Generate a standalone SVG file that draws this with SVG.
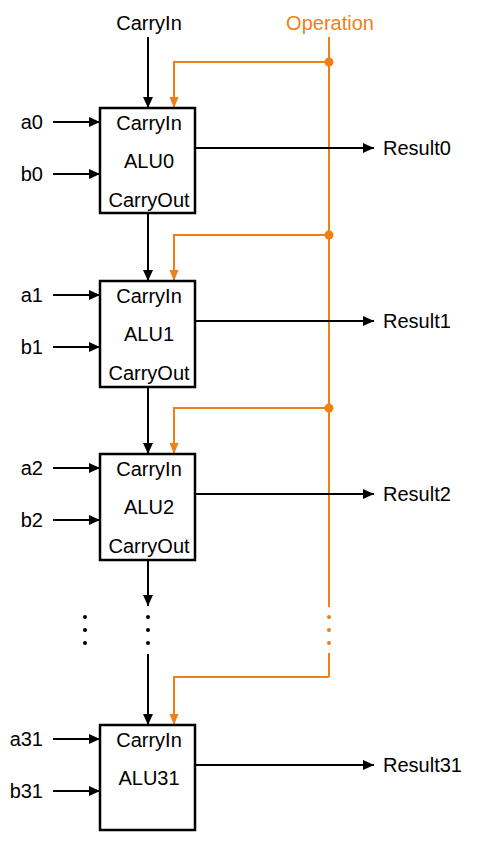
<svg xmlns="http://www.w3.org/2000/svg" width="481" height="862" viewBox="0 0 481 862">
<defs>
<style>
text{font-family:"Liberation Sans",Arial,sans-serif;font-size:20px;fill:#000}
.c{text-anchor:middle}
.e{text-anchor:end}
.box{fill:#fff;stroke:#000;stroke-width:2.5}
.w{stroke:#000;stroke-width:2;fill:none}
.o{stroke:#EF8017;stroke-width:2;fill:none}
.ot{fill:#EF8017}
</style>
<marker id="ab" markerUnits="userSpaceOnUse" markerWidth="12" markerHeight="12" refX="11" refY="5" orient="auto" viewBox="0 0 12 10">
<path d="M0,0 L11,5 L0,10 Z" fill="#000"/>
</marker>
<marker id="ao" markerUnits="userSpaceOnUse" markerWidth="12" markerHeight="12" refX="11" refY="4.5" orient="auto" viewBox="0 0 12 9">
<path d="M0,0 L11,4.5 L0,9 Z" fill="#EF8017"/>
</marker>
</defs>

<g id="labels-top">
<text class="c" x="149" y="30">CarryIn</text>
<text class="c ot" x="330" y="30">Operation</text>
</g>

<g id="connectors">
<!-- carry chain -->
<line class="w" x1="148" y1="37" x2="148" y2="108" marker-end="url(#ab)"/>
<line class="w" x1="148" y1="213" x2="148" y2="281" marker-end="url(#ab)"/>
<line class="w" x1="148" y1="387" x2="148" y2="454" marker-end="url(#ab)"/>
<line class="w" x1="148" y1="560" x2="148" y2="606" marker-end="url(#ab)"/>
<line class="w" x1="148" y1="654" x2="148" y2="725" marker-end="url(#ab)"/>
<!-- operation bus -->
<line class="o" x1="329" y1="37" x2="329" y2="607"/>
<line class="o" x1="329" y1="653" x2="329" y2="677"/>
<polyline class="o" points="329,62 174,62 174,108" marker-end="url(#ao)"/>
<polyline class="o" points="329,235 174,235 174,281" marker-end="url(#ao)"/>
<polyline class="o" points="329,408 174,408 174,454" marker-end="url(#ao)"/>
<polyline class="o" points="329,677 174,677 174,725" marker-end="url(#ao)"/>
<circle class="ot" cx="329" cy="62" r="4.5"/>
<circle class="ot" cx="329" cy="235" r="4.5"/>
<circle class="ot" cx="329" cy="408" r="4.5"/>
<!-- inputs -->
<line class="w" x1="53" y1="122" x2="100" y2="122" marker-end="url(#ab)"/>
<line class="w" x1="53" y1="174" x2="100" y2="174" marker-end="url(#ab)"/>
<line class="w" x1="53" y1="295" x2="100" y2="295" marker-end="url(#ab)"/>
<line class="w" x1="53" y1="347" x2="100" y2="347" marker-end="url(#ab)"/>
<line class="w" x1="53" y1="468" x2="100" y2="468" marker-end="url(#ab)"/>
<line class="w" x1="53" y1="520" x2="100" y2="520" marker-end="url(#ab)"/>
<line class="w" x1="53" y1="739" x2="100" y2="739" marker-end="url(#ab)"/>
<line class="w" x1="53" y1="791" x2="100" y2="791" marker-end="url(#ab)"/>
<!-- results -->
<line class="w" x1="195" y1="148" x2="374" y2="148" marker-end="url(#ab)"/>
<line class="w" x1="195" y1="321" x2="374" y2="321" marker-end="url(#ab)"/>
<line class="w" x1="195" y1="494" x2="374" y2="494" marker-end="url(#ab)"/>
<line class="w" x1="195" y1="765" x2="374" y2="765" marker-end="url(#ab)"/>
</g>

<g id="ellipsis">
<circle cx="85" cy="617" r="2"/><circle cx="85" cy="630" r="2"/><circle cx="85" cy="643" r="2"/>
<circle cx="148" cy="617" r="2"/><circle cx="148" cy="630" r="2"/><circle cx="148" cy="643" r="2"/>
<circle class="ot" cx="329" cy="617" r="2"/><circle class="ot" cx="329" cy="630" r="2"/><circle class="ot" cx="329" cy="643" r="2"/>
</g>

<g id="alu0">
<rect class="box" x="100" y="108" width="95" height="105"/>
<text class="c" x="149" y="130">CarryIn</text>
<text class="c" x="149" y="168">ALU0</text>
<text class="c" x="149" y="207">CarryOut</text>
<text class="e" x="43" y="129">a0</text>
<text class="e" x="43" y="181">b0</text>
<text x="383" y="155">Result0</text>
</g>

<g id="alu1">
<rect class="box" x="100" y="281" width="95" height="106"/>
<text class="c" x="149" y="303">CarryIn</text>
<text class="c" x="149" y="341">ALU1</text>
<text class="c" x="149" y="380">CarryOut</text>
<text class="e" x="43" y="302">a1</text>
<text class="e" x="43" y="354">b1</text>
<text x="383" y="328">Result1</text>
</g>

<g id="alu2">
<rect class="box" x="100" y="454" width="95" height="106"/>
<text class="c" x="149" y="476">CarryIn</text>
<text class="c" x="149" y="514">ALU2</text>
<text class="c" x="149" y="553">CarryOut</text>
<text class="e" x="43" y="475">a2</text>
<text class="e" x="43" y="527">b2</text>
<text x="383" y="501">Result2</text>
</g>

<g id="alu31">
<rect class="box" x="100" y="725" width="95" height="105"/>
<text class="c" x="149" y="747">CarryIn</text>
<text class="c" x="149" y="785">ALU31</text>
<text class="e" x="43" y="746">a31</text>
<text class="e" x="43" y="798">b31</text>
<text x="383" y="772">Result31</text>
</g>
</svg>
